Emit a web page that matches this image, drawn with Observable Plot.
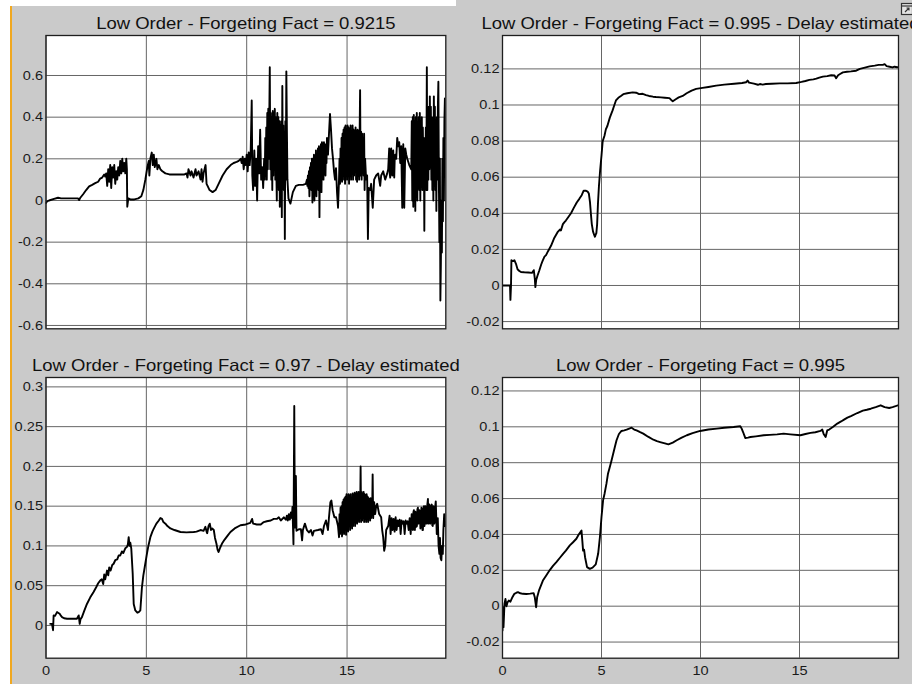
<!DOCTYPE html>
<html>
<head>
<meta charset="utf-8">
<script src="https://cdn.jsdelivr.net/npm/d3@7"></script>
<script src="https://cdn.jsdelivr.net/npm/@observablehq/plot@0.6"></script>
<style>
  html, body { margin: 0; padding: 0; background: #ffffff; }
  #fig { position: relative; width: 912px; height: 684px; overflow: hidden; background: #cacaca;
         font-family: "Liberation Sans", Arial, sans-serif; }
  #fig .edge { position: absolute; }
  #fig .panel { position: absolute; width: 456px; height: 342px; }
</style>
</head>
<body>
<div id="fig">
  <div class="edge" style="left:0;top:0;width:10px;height:684px;background:#ffffff"></div>
  <div class="edge" style="left:0;top:0;width:456px;height:6px;background:#ffffff"></div>
  <div class="edge" style="left:10px;top:6px;width:2px;height:678px;background:#f0a820"></div>
</div>
<script>
// Parameter estimates over time (s), one trace per forgetting factor setting
const titles = [
  "Low Order - Forgeting Fact = 0.9215",
  "Low Order - Forgeting Fact = 0.995 - Delay estimated",
  "Low Order - Forgeting Fact = 0.97 - Delay estimated",
  "Low Order - Forgeting Fact = 0.995"
];

const xTicks = [0, 5, 10, 15];
const yTicksA = [-0.6, -0.4, -0.2, 0, 0.2, 0.4, 0.6];
const yTicksB = [-0.02, 0, 0.02, 0.04, 0.06, 0.08, 0.1, 0.12];
const yTicksC = [0, 0.05, 0.1, 0.15, 0.2, 0.25, 0.3];
const yTicksD = [-0.02, 0, 0.02, 0.04, 0.06, 0.08, 0.1, 0.12];

const ff09215 = [
  [0,-0.012],[0.05,-0.005],[0.15,0.0],[0.4,0.008],[0.6,0.013],[0.75,0.01],[1.0,0.01],[1.3,0.01],[1.6,0.01],[1.65,0.002],
  [1.7,0.012],[1.85,0.03],[2.0,0.05],[2.15,0.068],[2.3,0.075],[2.45,0.083],[2.6,0.09],[2.7,0.105],[2.8,0.11],[2.9,0.125],
  [2.95,0.115],[3.0,0.13],[3.05,0.07],[3.1,0.15],[3.15,0.09],[3.2,0.17],[3.25,0.06],[3.3,0.16],[3.35,0.11],[3.4,0.17],
  [3.45,0.08],[3.5,0.14],[3.55,0.1],[3.6,0.16],[3.65,0.12],[3.7,0.19],[3.75,0.13],[3.8,0.2],[3.85,0.14],[3.9,0.18],
  [3.95,0.13],[4.0,0.2],[4.03,0.15],[4.05,-0.03],[4.1,0.01],[4.2,0.005],[4.4,0.005],[4.6,0.01],[4.75,0.02],[4.85,0.05],
  [4.95,0.1],[5.05,0.16],[5.12,0.19],[5.15,0.12],[5.2,0.2],[5.27,0.23],[5.32,0.17],[5.37,0.22],[5.42,0.16],[5.5,0.2],
  [5.55,0.15],[5.62,0.17],[5.7,0.15],[5.8,0.14],[5.95,0.13],[6.15,0.125],[6.5,0.125],[6.9,0.125],[7.0,0.13],[7.05,0.11],
  [7.1,0.15],[7.2,0.12],[7.25,0.14],[7.35,0.11],[7.45,0.15],[7.5,0.12],[7.6,0.14],[7.7,0.1],[7.75,0.15],[7.8,0.09],
  [7.85,0.13],[7.95,0.17],[8.0,0.08],[8.05,0.07],[8.15,0.05],[8.3,0.04],[8.45,0.05],[8.6,0.08],[8.8,0.12],[9.0,0.15],
  [9.2,0.17],[9.35,0.18],[9.5,0.185],[9.6,0.19],[9.7,0.2],[9.75,0.18],[9.8,0.21],[9.85,0.15],[9.9,0.2],[9.95,0.17],
  [10.0,0.22],[10.05,0.14],[10.1,0.23],[10.15,0.17],[10.2,0.24],[10.25,0.48],[10.28,0.12],[10.32,0.05],[10.38,0.24],[10.42,0.07],
  [10.47,0.2],[10.52,0.0],[10.57,0.26],[10.62,0.13],[10.67,0.34],[10.72,0.1],[10.77,0.16],[10.82,0.06],[10.87,0.2],
  [10.9,0.1],[10.925,0.3],[10.95,0.12],[10.975,0.35],[11.0,0.1],[11.025,0.42],[11.05,0.15],[11.075,0.44],[11.1,0.2],[11.125,0.4],
  [11.15,0.64],[11.175,0.15],[11.2,0.42],[11.225,0.1],[11.25,0.4],[11.275,0.05],[11.3,0.43],[11.325,0.12],[11.35,0.42],[11.375,0.2],
  [11.4,0.44],[11.425,0.1],[11.45,0.4],[11.475,0.15],[11.5,0.0],[11.525,0.42],[11.55,0.1],[11.575,0.4],[11.6,0.05],[11.625,0.38],
  [11.65,-0.03],[11.675,0.36],[11.7,0.1],[11.725,0.38],[11.75,-0.08],[11.775,0.55],[11.8,0.1],[11.825,0.36],[11.85,0.05],[11.875,0.3],
  [11.9,-0.185],[11.925,0.38],[11.95,0.1],[11.975,0.62],[12.0,0.36],[12.03,0.1],[12.08,0.01],[12.18,-0.015],[12.3,0.04],[12.45,0.07],
  [12.6,0.075],[12.8,0.075],[12.95,0.08],
  [13.0,0.1],[13.025,0.07],[13.05,0.12],[13.075,0.06],[13.1,0.14],[13.125,0.02],[13.15,0.16],[13.175,0.08],[13.2,0.18],[13.225,0.05],
  [13.25,0.2],[13.275,-0.01],[13.3,0.2],[13.325,0.1],[13.35,0.22],[13.375,0.0],[13.4,0.2],[13.425,0.08],[13.45,0.24],[13.475,0.02],
  [13.5,0.22],[13.525,0.1],[13.55,0.25],[13.575,0.05],[13.6,0.26],[13.625,-0.08],[13.65,0.25],[13.675,0.1],[13.7,0.27],[13.725,0.04],
  [13.75,0.28],[13.775,0.12],[13.8,0.27],[13.825,0.1],[13.85,0.28],[13.875,0.15],[13.9,0.27],[13.925,0.12],[13.95,0.26],[13.975,0.18],
  [14.0,0.3],[14.05,0.22],[14.1,0.32],[14.15,0.415],[14.2,0.34],[14.25,0.25],[14.3,0.2],[14.35,0.14],[14.4,0.1],[14.45,0.155],
  [14.5,0.04],[14.55,-0.035],
  [14.6,0.1],[14.625,0.2],[14.65,0.08],[14.675,0.25],[14.7,0.1],[14.725,0.3],[14.75,0.09],[14.775,0.32],[14.8,0.12],[14.825,0.34],
  [14.85,0.1],[14.875,0.35],[14.9,0.08],[14.925,0.36],[14.95,0.12],[14.975,0.34],[15.0,0.1],[15.025,0.36],[15.05,0.14],[15.075,0.35],
  [15.1,0.08],[15.125,0.34],[15.15,0.12],[15.175,0.36],[15.2,0.1],[15.225,0.33],[15.25,0.15],[15.275,0.36],[15.3,0.1],[15.325,0.34],
  [15.35,0.12],[15.375,0.33],[15.4,0.14],[15.425,0.35],[15.45,0.1],[15.475,0.33],[15.5,0.09],[15.525,0.34],[15.55,0.12],[15.575,0.33],
  [15.6,0.1],[15.625,0.3],[15.65,0.53],[15.675,0.12],[15.7,0.33],[15.725,0.1],[15.75,0.32],[15.775,0.14],[15.8,0.3],[15.825,0.12],
  [15.85,0.32],[15.875,0.05],[15.9,0.2],[15.95,0.1],[16.0,0.12],[16.04,-0.185],[16.08,0.06],[16.15,0.05],[16.2,0.08],
  [16.28,-0.035],[16.35,0.1],[16.45,0.12],[16.55,0.13],[16.65,0.07],[16.7,0.12],[16.8,0.14],[16.9,0.1],[17.0,0.13],[17.05,0.15],
  [17.1,0.25],[17.125,0.13],[17.15,0.11],[17.175,0.22],[17.2,0.25],[17.225,0.14],[17.25,0.12],[17.275,0.23],[17.3,0.24],[17.325,0.15],
  [17.35,0.11],[17.375,0.2],[17.4,0.22],[17.45,0.2],[17.5,0.3],[17.55,0.26],
  [17.6,0.28],[17.65,0.18],[17.7,0.26],[17.75,-0.035],[17.8,0.27],[17.85,-0.035],[17.9,0.25],[17.95,0.22],[18.0,0.2],[18.1,0.17],
  [18.2,0.15],[18.225,0.38],[18.25,0.0],[18.275,0.4],[18.3,-0.03],[18.325,0.41],[18.35,0.05],[18.375,0.38],[18.4,-0.05],[18.425,0.4],
  [18.45,0.1],[18.475,0.42],[18.5,0.0],[18.525,0.35],[18.55,0.15],[18.575,0.4],[18.6,0.05],[18.625,0.42],[18.65,0.0],[18.675,0.38],
  [18.7,0.1],[18.725,0.4],[18.75,0.05],[18.775,0.35],[18.8,0.15],[18.825,0.3],[18.85,-0.145],[18.875,0.3],[18.9,0.1],[18.925,0.35],
  [18.95,0.05],[18.975,0.64],[19.0,0.05],[19.025,0.4],[19.05,0.1],[19.075,0.45],[19.1,0.15],[19.125,0.5],[19.15,0.2],[19.175,0.45],
  [19.2,0.1],[19.225,0.4],[19.25,0.05],[19.275,0.3],[19.3,0.0],[19.325,0.5],[19.35,0.1],[19.375,0.45],[19.4,0.05],[19.425,0.3],
  [19.45,-0.05],[19.475,0.4],[19.5,0.1],[19.525,0.45],[19.55,0.57],[19.575,0.1],[19.6,-0.2],[19.625,0.2],[19.65,-0.48],[19.675,-0.3],
  [19.7,0.0],[19.725,-0.25],[19.75,0.2],[19.775,-0.1],[19.8,0.3],[19.825,0.0],[19.85,0.38],[19.875,0.49],[19.9,0.3],[19.92,0.33]
];

const ff0995Delay = [
  [0,0],[0.38,0],[0.4,-0.008],[0.43,0.0],[0.45,0.014],[0.52,0.0135],[0.6,0.014],[0.68,0.012],[0.76,0.009],[0.85,0.008],
  [0.93,0.0075],[1.1,0.0073],[1.3,0.0072],[1.5,0.007],[1.58,0.0085],[1.63,0.004],[1.66,-0.0009],[1.7,0.003],[1.77,0.0055],[1.85,0.008],
  [1.95,0.0115],[2.03,0.0138],[2.12,0.016],[2.2,0.0168],[2.3,0.019],[2.45,0.022],[2.6,0.026],[2.78,0.0295],[2.9,0.031],[2.95,0.0305],
  [3.05,0.034],[3.12,0.035],[3.2,0.036],[3.3,0.0375],[3.46,0.04],[3.6,0.043],[3.75,0.046],[3.88,0.048],[4.0,0.05],[4.1,0.0525],
  [4.2,0.0525],[4.3,0.052],[4.36,0.051],[4.42,0.046],[4.47,0.039],[4.51,0.034],[4.57,0.03],[4.63,0.028],[4.67,0.027],[4.7,0.028],
  [4.74,0.029],[4.78,0.034],[4.82,0.045],[4.87,0.055],[4.93,0.0637],[5.0,0.072],[5.06,0.08],[5.15,0.083],[5.22,0.0865],[5.3,0.0885],
  [5.42,0.093],[5.56,0.097],[5.65,0.1],[5.73,0.1025],[5.85,0.104],[5.98,0.105],[6.1,0.106],[6.3,0.1065],[6.57,0.107],[6.75,0.1068],
  [6.9,0.106],[7.08,0.1062],[7.25,0.1055],[7.4,0.105],[7.6,0.1046],[7.75,0.1044],[8.0,0.1042],[8.2,0.104],[8.43,0.1038],[8.52,0.1028],
  [8.6,0.1021],[8.75,0.1032],[8.9,0.1042],[9.1,0.105],[9.3,0.1065],[9.55,0.108],[9.78,0.1089],[10.1,0.1095],[10.4,0.11],[10.79,0.1107],
  [11.2,0.1113],[11.7,0.1118],[12.1,0.1122],[12.3,0.1126],[12.38,0.1135],[12.45,0.1124],[12.7,0.1118],[12.9,0.1112],[13.0,0.1116],[13.14,0.1113],
  [13.3,0.1116],[13.6,0.1118],[14.0,0.112],[14.4,0.112],[14.83,0.1122],[15.1,0.1128],[15.3,0.1133],[15.5,0.1139],[15.7,0.1142],[15.85,0.1146],
  [16.0,0.1152],[16.18,0.1157],[16.4,0.116],[16.6,0.1165],[16.77,0.1163],[16.85,0.1148],[16.95,0.1165],[17.05,0.1172],[17.19,0.1181],[17.4,0.1184],
  [17.6,0.1186],[17.86,0.119],[18.05,0.12],[18.3,0.1207],[18.54,0.1214],[18.8,0.1218],[19.0,0.1222],[19.21,0.1222],[19.3,0.1226],[19.4,0.1215],
  [19.55,0.1212],[19.7,0.1208],[19.8,0.1212],[19.93,0.1209],[20,0.121]
];

const ff097Delay = [
  [0.21,0.002],[0.3,0.002],[0.35,-0.006],[0.38,0.0126],[0.45,0.012],[0.55,0.0168],[0.6,0.016],[0.68,0.0147],[0.75,0.012],[0.8,0.0105],
  [0.9,0.009],[1.05,0.0084],[1.3,0.0084],[1.54,0.0084],[1.63,0.0126],[1.68,0.002],[1.72,0.008],[1.79,0.0105],[1.9,0.018],[2.04,0.027],
  [2.2,0.035],[2.37,0.042],[2.5,0.048],[2.6,0.053],[2.71,0.0567],[2.78,0.058],[2.85,0.052],[2.9,0.064],[2.95,0.058],[3.04,0.069],
  [3.1,0.063],[3.15,0.073],[3.22,0.069],[3.3,0.076],[3.37,0.0776],[3.45,0.082],[3.55,0.083],[3.62,0.088],[3.7,0.088],[3.78,0.093],
  [3.85,0.091],[3.95,0.097],[4.03,0.0986],[4.08,0.102],[4.12,0.111],[4.16,0.1],[4.2,0.104],[4.25,0.0965],[4.32,0.065],[4.37,0.027],
  [4.45,0.0189],[4.55,0.016],[4.62,0.0168],[4.7,0.0189],[4.78,0.048],[4.85,0.063],[4.92,0.0735],[5.03,0.0903],[5.1,0.1],[5.2,0.111],
  [5.3,0.118],[5.37,0.1217],[5.5,0.128],[5.62,0.132],[5.7,0.135],[5.78,0.134],[5.85,0.13],[5.95,0.128],[6.05,0.125],[6.2,0.122],
  [6.4,0.12],[6.7,0.1175],[7.0,0.117],[7.36,0.1175],[7.5,0.118],[7.7,0.12],[7.85,0.119],[7.94,0.124],[8.0,0.118],[8.03,0.116],
  [8.1,0.125],[8.16,0.128],[8.22,0.12],[8.28,0.122],[8.36,0.12],[8.42,0.11],[8.49,0.103],[8.55,0.095],[8.6,0.0924],[8.68,0.098],
  [8.77,0.103],[8.9,0.108],[9.05,0.113],[9.19,0.1175],[9.4,0.122],[9.69,0.126],[9.95,0.127],[10.18,0.129],[10.27,0.134],[10.32,0.128],
  [10.5,0.127],[10.7,0.127],[10.85,0.13],[11.0,0.131],[11.2,0.132],[11.35,0.134],[11.5,0.134],[11.6,0.136],[11.7,0.132],[11.85,0.136],
  [11.95,0.133],[12.0,0.138],[12.05,0.132],[12.1,0.14],[12.15,0.133],[12.2,0.142],[12.25,0.135],[12.28,0.149],[12.33,0.102],[12.37,0.276],
  [12.4,0.123],[12.45,0.188],[12.48,0.119],[12.6,0.121],[12.7,0.121],[12.76,0.107],[12.8,0.12],[12.9,0.128],[13.0,0.12],[13.1,0.117],
  [13.2,0.12],[13.28,0.113],[13.35,0.119],[13.55,0.12],[13.7,0.121],[13.78,0.115],[13.85,0.125],[13.95,0.132],[14.05,0.12],[14.1,0.136],
  [14.17,0.155],[14.22,0.157],[14.28,0.145],[14.37,0.136],[14.45,0.136],[14.55,0.125],
  [14.6,0.111],[14.625,0.14],[14.65,0.115],[14.675,0.148],[14.7,0.12],[14.725,0.15],[14.75,0.112],[14.775,0.155],[14.8,0.118],[14.825,0.158],
  [14.85,0.115],[14.875,0.16],[14.9,0.12],[14.925,0.162],[14.95,0.114],[14.975,0.165],[15.0,0.12],[15.025,0.16],[15.05,0.118],[15.075,0.165],
  [15.1,0.125],[15.125,0.162],[15.15,0.12],[15.175,0.165],[15.2,0.128],[15.225,0.16],[15.25,0.122],[15.275,0.166],[15.3,0.125],[15.325,0.163],
  [15.35,0.13],[15.375,0.167],[15.4,0.125],[15.425,0.165],[15.45,0.13],[15.475,0.168],[15.5,0.128],[15.525,0.165],[15.55,0.132],[15.575,0.168],
  [15.6,0.13],[15.625,0.166],[15.65,0.135],[15.675,0.2],[15.7,0.13],[15.725,0.168],[15.75,0.132],[15.775,0.165],[15.8,0.135],[15.825,0.168],
  [15.85,0.13],[15.875,0.165],[15.9,0.136],[15.925,0.163],[15.95,0.13],[15.975,0.165],[16.0,0.135],[16.025,0.162],[16.05,0.13],[16.075,0.16],
  [16.1,0.135],[16.125,0.158],[16.15,0.132],[16.175,0.16],[16.2,0.135],[16.225,0.158],[16.25,0.14],[16.275,0.19],[16.3,0.135],[16.35,0.155],
  [16.4,0.14],[16.45,0.15],[16.5,0.153],[16.6,0.14],[16.7,0.136],[16.75,0.12],[16.8,0.111],
  [16.85,0.094],[16.9,0.1],[16.95,0.12],[17.05,0.125],[17.12,0.138],[17.17,0.115],[17.22,0.135],[17.27,0.12],[17.32,0.134],[17.37,0.118],
  [17.42,0.136],[17.47,0.12],[17.52,0.132],[17.57,0.125],[17.62,0.133],[17.67,0.115],[17.72,0.132],[17.77,0.128],[17.82,0.131],[17.87,0.115],
  [17.92,0.132],[17.97,0.128],[18.02,0.131],[18.07,0.12],[18.12,0.135],[18.17,0.115],[18.22,0.14],[18.25,0.122],[18.28,0.12],[18.305,0.142],
  [18.33,0.145],[18.355,0.122],[18.38,0.12],[18.405,0.143],[18.43,0.14],[18.455,0.124],[18.48,0.125],[18.505,0.146],[18.53,0.148],[18.555,0.128],
  [18.58,0.13],[18.605,0.145],[18.63,0.14],[18.655,0.122],[18.68,0.125],[18.705,0.148],[18.73,0.145],[18.755,0.12],[18.78,0.12],[18.805,0.147],
  [18.83,0.15],[18.855,0.125],[18.88,0.13],[18.905,0.15],[18.93,0.145],[18.955,0.128],[18.98,0.135],[19.0,0.152],[19.03,0.159],[19.05,0.128],
  [19.07,0.13],[19.1,0.152],[19.12,0.15],[19.145,0.128],[19.17,0.135],[19.195,0.15],[19.22,0.152],[19.245,0.126],[19.27,0.125],[19.295,0.15],
  [19.32,0.148],[19.345,0.128],[19.37,0.13],[19.395,0.15],[19.42,0.156],[19.47,0.115],[19.52,0.135],[19.56,0.1],[19.6,0.09],[19.63,0.11],
  [19.66,0.085],[19.7,0.082],[19.73,0.1],[19.77,0.09],[19.8,0.12],[19.84,0.14],[19.88,0.125],[19.92,0.13]
];

const ff0995 = [
  [0,-0.0136],[0.02,-0.0005],[0.05,-0.0117],[0.08,-0.004],[0.1,0.0013],[0.15,0.004],[0.2,0.0],[0.25,0.002],[0.32,0.0032],[0.4,0.0025],
  [0.5,0.005],[0.6,0.0069],[0.7,0.0075],[0.78,0.0078],[0.9,0.0072],[1.03,0.0069],[1.2,0.0068],[1.4,0.007],[1.57,0.0073],[1.63,0.005],
  [1.7,-0.0006],[1.75,0.005],[1.85,0.009],[2.04,0.0143],[2.2,0.017],[2.38,0.02],[2.55,0.0225],[2.72,0.0246],[2.9,0.027],[3.06,0.0292],
  [3.2,0.031],[3.4,0.0339],[3.55,0.0355],[3.73,0.0376],[3.85,0.04],[3.99,0.0422],[4.03,0.0367],[4.07,0.031],[4.12,0.0315],[4.17,0.0273],
  [4.27,0.0218],[4.41,0.0208],[4.55,0.0215],[4.71,0.0233],[4.83,0.0292],[4.92,0.0385],[5.0,0.0497],[5.08,0.059],[5.16,0.063],[5.25,0.0683],
  [5.33,0.074],[5.42,0.0776],[5.5,0.081],[5.59,0.085],[5.68,0.089],[5.76,0.0925],[5.88,0.096],[6.01,0.0977],[6.15,0.098],[6.27,0.0984],
  [6.4,0.099],[6.52,0.0995],[6.65,0.0985],[6.77,0.098],[6.95,0.097],[7.11,0.0962],[7.35,0.0945],[7.62,0.0928],[7.8,0.092],[7.96,0.0915],
  [8.2,0.0908],[8.38,0.0902],[8.6,0.0912],[8.8,0.0925],[9.05,0.094],[9.31,0.0953],[9.6,0.0965],[9.98,0.0977],[10.4,0.0985],[10.83,0.099],
  [11.2,0.0995],[11.67,0.0999],[12.01,0.1003],[12.08,0.099],[12.15,0.0971],[12.26,0.0938],[12.4,0.094],[12.52,0.0943],[12.8,0.0947],[13.19,0.0953],
  [13.5,0.0955],[13.87,0.0958],[14.2,0.0962],[14.54,0.0958],[15.05,0.0953],[15.3,0.096],[15.56,0.0966],[15.8,0.097],[16.06,0.0977],[16.15,0.0985],
  [16.22,0.096],[16.32,0.0943],[16.4,0.098],[16.5,0.0985],[16.7,0.1],[16.91,0.1018],[17.1,0.103],[17.25,0.104],[17.42,0.1051],[17.6,0.106],
  [17.92,0.1077],[18.2,0.109],[18.4,0.1095],[18.6,0.1101],[18.85,0.111],[19.1,0.112],[19.3,0.111],[19.53,0.1105],[19.7,0.111],[19.85,0.1115],
  [19.98,0.112]
];

const fmt = (d) => String(+d.toFixed(3));

function panel({series, title, xDomain, yDomain, yTicks, xLabels, left, top, marginLeft, marginRight, marginBottom}) {
  const data = series.map(([t, v]) => ({t, v}));
  const marks = [
    Plot.frame({fill: "#ffffff"}),
    Plot.gridX(xTicks, {stroke: "#666666", strokeOpacity: 1, strokeWidth: 1}),
    Plot.gridY(yTicks, {stroke: "#666666", strokeOpacity: 1, strokeWidth: 1}),
    Plot.line(data, {x: "t", y: "v", stroke: "#000000", strokeWidth: 1.9, clip: true}),
    Plot.frame({stroke: "#1e1e1e", strokeWidth: 1.3}),
    Plot.axisY(yTicks, {tickSize: 0, tickPadding: 3, tickFormat: fmt, fontSize: 13, fill: "#1a1a1a", label: null}),
    Plot.text([title], {frameAnchor: "top", lineAnchor: "bottom", dy: -7, fontSize: 16.5, fill: "#111111"})
  ];
  if (xLabels) marks.push(Plot.axisX(xTicks, {tickSize: 0, tickPadding: 8, tickFormat: fmt, fontSize: 13, fill: "#1a1a1a", label: null}));
  const svg = Plot.plot({
    width: 456, height: 342,
    marginLeft, marginRight, marginTop: 35, marginBottom,
    style: {background: "transparent", fontFamily: "Liberation Sans, Arial, sans-serif", overflow: "visible", maxWidth: "none"},
    x: {domain: xDomain, label: null, axis: xLabels ? undefined : null},
    y: {domain: yDomain, label: null},
    marks
  });
  const holder = document.createElement("div");
  holder.className = "panel";
  holder.style.left = left + "px";
  holder.style.top = top + "px";
  holder.appendChild(svg);
  document.getElementById("fig").appendChild(holder);
  // slightly wide lettering, as in the exported figure
  svg.querySelectorAll("text").forEach((el) => {
    const w = el.getComputedTextLength();
    if (w > 0) {
      el.setAttribute("textLength", (w * 1.12).toFixed(1));
      el.setAttribute("lengthAdjust", "spacingAndGlyphs");
    }
  });
}

panel({series: ff09215, title: titles[0], xDomain: [0, 19.92], yDomain: [-0.616, 0.792], yTicks: yTicksA,
       xLabels: false, left: 0, top: 0, marginLeft: 45.5, marginRight: 10.7, marginBottom: 13.7});
panel({series: ff0995Delay, title: titles[1], xDomain: [0, 20], yDomain: [-0.024, 0.1385], yTicks: yTicksB,
       xLabels: false, left: 456, top: 0, marginLeft: 46, marginRight: 14, marginBottom: 13.7});
panel({series: ff097Delay, title: titles[2], xDomain: [0, 19.92], yDomain: [-0.0412, 0.3118], yTicks: yTicksC,
       xLabels: true, left: 0, top: 342, marginLeft: 45.5, marginRight: 10.7, marginBottom: 26.3});
panel({series: ff0995, title: titles[3], xDomain: [0, 20], yDomain: [-0.029, 0.1275], yTicks: yTicksD,
       xLabels: true, left: 456, top: 342, marginLeft: 46, marginRight: 14, marginBottom: 26.3});

// window control glyph in the top right corner
const ns = "http://www.w3.org/2000/svg";
const icon = document.createElementNS(ns, "svg");
icon.setAttribute("width", "14"); icon.setAttribute("height", "14");
icon.style.position = "absolute"; icon.style.left = "900px"; icon.style.top = "2px";
icon.innerHTML = '<rect x="1.5" y="1.5" width="11" height="11" fill="#e4e4e4" stroke="#333" stroke-width="1.2"/>' +
  '<line x1="1.5" y1="4" x2="12.5" y2="4" stroke="#333" stroke-width="1.2"/>' +
  '<path d="M5 10 L9 6 M6.5 6 H9 V8.5" fill="none" stroke="#333" stroke-width="1.1"/>';
document.getElementById("fig").appendChild(icon);
</script>
</body>
</html>
